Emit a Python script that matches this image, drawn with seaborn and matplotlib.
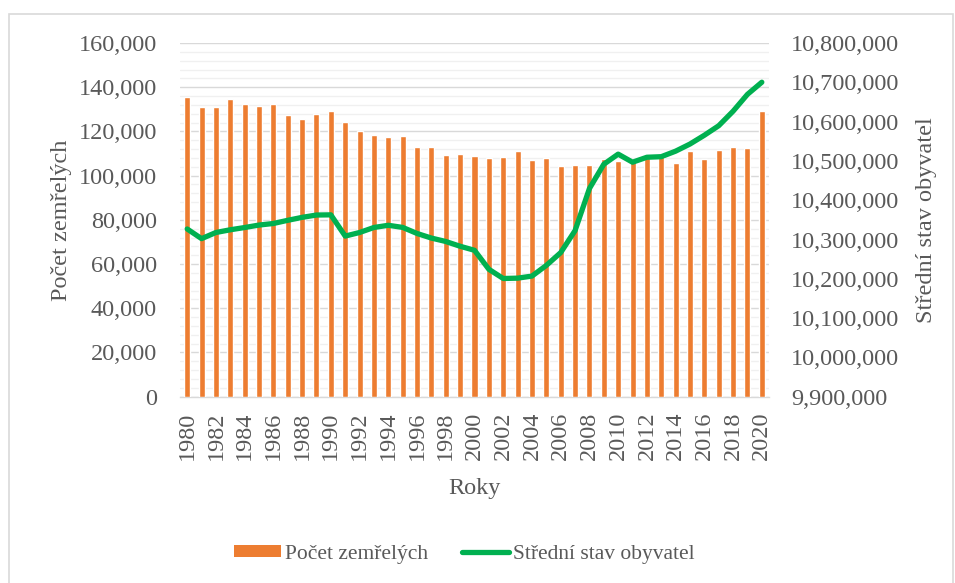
import numpy as np
import pandas as pd
import matplotlib
matplotlib.use("Agg")
import matplotlib.pyplot as plt
import seaborn as sns
from matplotlib.ticker import MultipleLocator, FuncFormatter
from matplotlib.patches import Patch, Rectangle
from matplotlib.lines import Line2D

years = list(range(1980, 2021))
deaths = [135537, 131194, 131216, 134474, 132556, 131707, 132505, 127244, 125694, 127747,
          129166, 124290, 120337, 118185, 117373, 117913, 112782, 112744, 109527, 109768,
          109001, 107755, 108243, 111288, 107177, 107938, 104441, 104636, 104948, 107421,
          106844, 106848, 108189, 109160, 105665, 111173, 107750, 111443, 112920, 112362,
          129289]
population = [10326792, 10302215, 10317807, 10324739, 10330482, 10336742, 10340737, 10348834,
              10356359, 10362257, 10362740, 10308682, 10317807, 10330607, 10336162, 10330759,
              10315353, 10303642, 10294943, 10282784, 10272503, 10224192, 10200774, 10201651,
              10206923, 10234092, 10266646, 10322689, 10429692, 10491492, 10517247, 10496672,
              10509286, 10510719, 10524783, 10542942, 10565284, 10589526, 10626430, 10669324,
              10700155]
bar_label = "Počet zemřelých"
line_label = "Střední stav obyvatel"
x_label = "Roky"

df = pd.DataFrame({"rok": [str(y) for y in years], "zemreli": deaths, "obyvatel": population})
df["pos"] = np.arange(len(df))

sns.set_theme(style="white")
plt.rcParams["font.family"] = ["Liberation Serif", "DejaVu Serif"]
txt = "#595959"
orange = "#ED7D31"
green = "#00B050"
fs = 17.5

fig = plt.figure(figsize=(9.55, 5.83), dpi=100)
ax = fig.add_axes([180/955, 1-396.7/583, (769-180)/955, (396.7-43)/583])

sns.barplot(data=df, x="rok", y="zemreli", color=orange, saturation=1, width=0.42, ax=ax, zorder=3)
ax.set_xlim(-0.5, len(df)-0.5)
ax.set_ylim(0, 160000)
ax.yaxis.set_major_locator(MultipleLocator(20000))
ax.yaxis.set_minor_locator(MultipleLocator(4000))
ax.yaxis.set_major_formatter(FuncFormatter(lambda v, p: f"{int(v):,}"))
ax.grid(which="major", axis="y", color="#d9d9d9", lw=1.0, zorder=0)
ax.grid(which="minor", axis="y", color="#f0f0f0", lw=1.0, zorder=0)
ax.set_axisbelow(True)
ax.set_xticks(df["pos"][::2])
ax.set_xticklabels(df["rok"][::2], rotation=90)
for s in ["top", "left", "right"]:
    ax.spines[s].set_visible(False)
ax.spines["bottom"].set_color("#d9d9d9")
ax.spines["bottom"].set_linewidth(1.0)
ax.tick_params(axis="both", which="both", length=0, colors=txt, labelsize=fs)
ax.tick_params(axis="y", pad=16.5)
ax.tick_params(axis="x", pad=10.5)
ax.set_xlabel(x_label, color=txt, fontsize=fs, labelpad=13)
ax.set_ylabel(bar_label, color=txt, fontsize=fs, labelpad=4.5)

ax2 = ax.twinx()
sns.lineplot(data=df, x="pos", y="obyvatel", color=green, lw=3.8, ax=ax2,
             solid_capstyle="round", solid_joinstyle="round")
ax2.set_ylim(9900000, 10800000)
ax2.yaxis.set_major_locator(MultipleLocator(100000))
ax2.yaxis.set_major_formatter(FuncFormatter(lambda v, p: f"{int(round(v)):,}"))
ax2.set_xlim(-0.5, len(df)-0.5)
for s in ["top", "left", "right", "bottom"]:
    ax2.spines[s].set_visible(False)
ax2.tick_params(axis="y", length=0, colors=txt, labelsize=fs, pad=16)
ax2.set_ylabel(line_label, color=txt, fontsize=fs, labelpad=12)
ax2.set_xlabel("")

handles = [Patch(facecolor=orange, edgecolor="none", label=bar_label),
           Line2D([0], [0], color=green, lw=3.8, solid_capstyle="round", label=line_label)]
leg = fig.legend(handles=handles, loc="center", bbox_to_anchor=(464.5/955, 1-554/583), ncol=2,
                 frameon=False, fontsize=15.5, handlelength=2.18, handleheight=0.5,
                 handletextpad=0.19, columnspacing=1.6)
for t in leg.get_texts():
    t.set_color(txt)

fig.patches.append(Rectangle((9/955, -0.02), 944/955, (583-14)/583 + 0.02, transform=fig.transFigure,
                             fill=False, edgecolor="#d9d9d9", lw=1.2))

fig.savefig("out.png", dpi=100)
